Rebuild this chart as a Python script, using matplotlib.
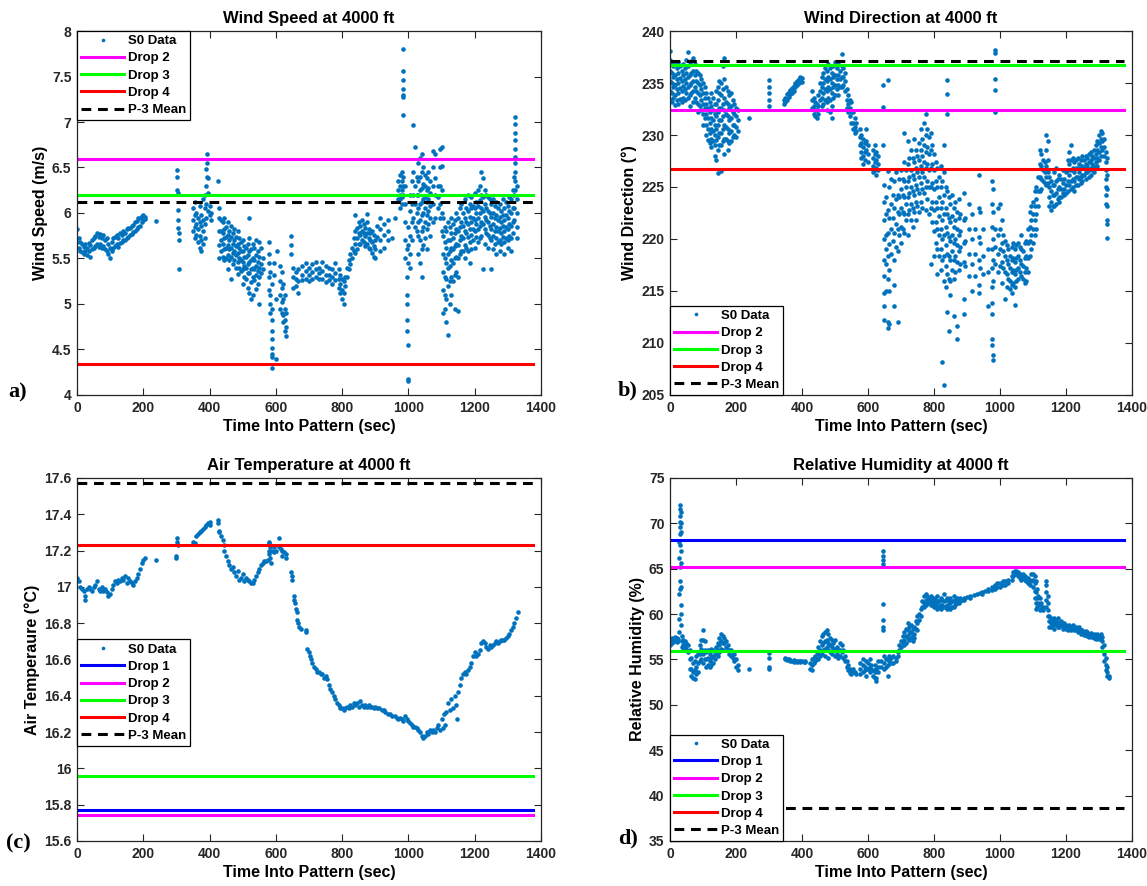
import matplotlib
matplotlib.use("Agg")
import matplotlib.pyplot as plt
from matplotlib.ticker import FuncFormatter, MultipleLocator

# ------------------------------------------------------------
# S0 readings during the 4000 ft pattern.
# Each *_time entry carries the group of readings logged around that time.
# ------------------------------------------------------------

speed_time = [
    0, 5, 10, 15, 20, 25, 30, 35, 40, 45, 50, 55, 60, 65, 70, 75, 80, 85, 90, 95,
    100, 105, 110, 115, 120, 125, 130, 135, 140, 145, 150, 155, 160, 165, 170, 175,
    180, 185, 190, 195, 200, 205, 237,
    303, 305, 307,
    350, 355, 360, 365, 370, 375, 380, 385, 390, 393, 395, 400, 405, 425,
    430, 435, 440, 445, 450, 455, 460, 465, 470, 475, 480, 485, 490, 495, 500,
    505, 510, 515, 520, 525, 530, 535, 540, 545, 550, 555, 560,
    578, 583, 588, 590, 595, 600, 605, 612, 618, 622, 628, 632, 645, 652, 660, 668,
    680, 690, 700, 710, 720, 730, 740, 750, 760, 770, 780, 790, 795, 800, 805,
    810, 815, 820, 825, 830, 835, 840, 845, 850, 855, 860, 865, 870, 875, 880,
    885, 890, 895, 900, 905, 915, 925, 940, 950, 960,
    970, 975, 980, 985, 990, 995, 998, 1000, 1005, 1010, 1015, 1020, 1025,
    1030, 1035, 1040, 1045, 1050, 1055, 1060, 1065, 1075, 1080, 1090, 1095, 1100,
    1105, 1110, 1115, 1120, 1125, 1130, 1135, 1140, 1145, 1150, 1155, 1160,
    1165, 1170, 1175, 1180, 1185, 1190, 1195, 1200, 1205, 1210, 1215, 1220,
    1225, 1230, 1235, 1240, 1245, 1250, 1255, 1260, 1265, 1270, 1275, 1280,
    1285, 1290, 1295, 1300, 1305, 1310, 1315, 1320, 1323, 1327,
]
speed_ms = [
    [5.82, 5.68], [5.72, 5.62], [5.68, 5.58], [5.66, 5.57], [5.63, 5.55],
    [5.66, 5.58], [5.62, 5.54], [5.67, 5.58], [5.65, 5.52], [5.70, 5.60],
    [5.72, 5.62], [5.75, 5.64], [5.78, 5.66], [5.74, 5.63], [5.77, 5.66],
    [5.72, 5.62], [5.76, 5.64], [5.70, 5.60], [5.72, 5.58], [5.66, 5.55],
    [5.62, 5.50], [5.68, 5.58], [5.72, 5.62], [5.74, 5.64], [5.76, 5.66],
    [5.72, 5.63], [5.78, 5.67], [5.76, 5.68], [5.80, 5.70], [5.78, 5.70],
    [5.82, 5.72], [5.84, 5.74], [5.83, 5.76], [5.86, 5.77], [5.87, 5.79],
    [5.90, 5.80], [5.91, 5.82], [5.94, 5.85], [5.95, 5.86], [5.97, 5.90],
    [5.98, 5.92], [5.96, 5.93], [5.91],
    [6.47, 6.40, 6.25], [6.22, 6.03, 5.92, 5.84], [5.78, 5.70, 5.38],
    [6.05, 5.92, 5.80], [6.12, 5.98, 5.85, 5.72], [6.00, 5.88, 5.76],
    [5.95, 5.82, 5.68], [6.08, 5.90, 5.75, 5.62], [5.98, 5.86, 5.70, 5.58],
    [6.15, 5.92, 5.80, 5.66], [6.20, 6.05, 5.88, 5.72], [6.48, 6.30, 6.10, 5.95],
    [6.65, 6.55, 6.40], [6.38, 6.22, 6.02], [6.08, 5.98], [6.00, 5.92], [6.35],
    [6.05, 5.95, 5.80, 5.65, 5.50], [5.92, 5.80, 5.70, 5.58],
    [5.90, 5.78, 5.66, 5.52], [5.95, 5.82, 5.72, 5.60, 5.48],
    [5.85, 5.74, 5.62, 5.50], [5.90, 5.76, 5.65, 5.54, 5.38],
    [5.80, 5.70, 5.60, 5.48], [5.86, 5.74, 5.62, 5.52, 5.27],
    [5.78, 5.66, 5.56, 5.44], [5.82, 5.70, 5.58, 5.48], [5.74, 5.64, 5.54, 5.40],
    [5.80, 5.66, 5.56, 5.46, 5.33], [5.72, 5.62, 5.50, 5.40],
    [5.68, 5.58, 5.48, 5.36], [5.70, 5.58, 5.46, 5.38, 5.22],
    [5.64, 5.52, 5.42, 5.30], [5.62, 5.52, 5.40, 5.28],
    [5.66, 5.54, 5.44, 5.34, 5.18], [5.95, 5.72, 5.58, 5.46, 5.34, 5.12],
    [5.60, 5.48, 5.38, 5.24, 5.05], [5.66, 5.50, 5.40, 5.30, 5.10],
    [5.62, 5.48, 5.38, 5.26], [5.70, 5.54, 5.42, 5.32, 5.16],
    [5.58, 5.46, 5.36, 5.22], [5.68, 5.52, 5.40, 5.30, 5.00],
    [5.62, 5.44, 5.34], [5.50, 5.38],
    [5.68, 5.55, 5.45, 5.30, 5.15], [5.35, 5.10, 5.00, 4.90],
    [5.22, 4.95, 4.82, 4.70, 4.62, 4.52, 4.45, 4.42], [4.30], [5.45, 5.32],
    [5.05, 4.40], [5.58], [5.42, 5.25, 5.10, 4.95], [5.35, 5.18, 5.02, 4.90],
    [5.22, 5.05, 4.88, 4.80], [5.10, 4.95, 4.82, 4.70], [4.90, 4.75, 4.65],
    [5.75, 5.65, 5.55], [5.40, 5.30, 5.18], [5.35, 5.28, 5.20], [5.38, 5.25, 5.12],
    [5.42, 5.32, 5.26], [5.45, 5.36, 5.28], [5.40, 5.32, 5.25], [5.44, 5.35, 5.28],
    [5.46, 5.38, 5.30], [5.40, 5.34, 5.27], [5.46, 5.36, 5.28], [5.42, 5.32, 5.24],
    [5.40, 5.32, 5.26], [5.38, 5.30, 5.22], [5.45, 5.34, 5.26], [5.38, 5.28, 5.18],
    [5.32, 5.22, 5.12], [5.28, 5.15, 5.05], [5.25, 5.12, 5.00],
    [5.30, 5.20], [5.40, 5.30], [5.48, 5.38], [5.55, 5.44], [5.62, 5.50],
    [5.72, 5.58], [5.98, 5.80, 5.66, 5.56], [5.84, 5.72, 5.60], [5.90, 5.78, 5.66],
    [5.86, 5.76, 5.66], [5.92, 5.80, 5.70], [5.88, 5.78, 5.68], [5.84, 5.75, 5.64],
    [5.99, 5.90, 5.78, 5.66], [5.82, 5.72, 5.62], [5.78, 5.70, 5.60],
    [5.80, 5.68, 5.56], [5.76, 5.64, 5.52], [5.70, 5.60, 5.50], [5.86, 5.74],
    [5.95, 5.82, 5.70, 5.58], [5.88, 5.76, 5.62], [5.92, 5.80, 5.70], [5.72], [5.95],
    [6.15, 6.25, 6.35], [6.42, 6.30, 6.20, 6.15, 6.05], [6.45, 6.35, 6.25, 6.18, 6.10],
    [7.80, 7.56, 7.46, 7.36, 7.30, 7.28, 7.08, 6.40, 6.30, 6.20],
    [6.30, 6.10, 5.90, 5.70, 5.50], [5.60, 5.30, 5.10, 5.00, 4.82, 4.70],
    [4.55, 4.18, 4.15], [5.45, 5.65, 5.85], [6.20, 6.02, 5.75, 5.55, 5.40],
    [6.35, 6.10, 5.90, 5.70], [6.97, 6.45, 6.20, 5.95], [6.73, 6.30, 6.10, 5.85],
    [6.40, 6.20, 6.00, 5.80],
    [6.55, 6.35, 6.20, 6.05, 5.90, 5.75, 5.55],
    [6.60, 6.40, 6.25, 6.10, 5.92, 5.70, 5.45],
    [6.65, 6.45, 6.28, 6.12, 5.98, 5.80, 5.60, 5.30],
    [6.50, 6.32, 6.15, 6.00, 5.85, 5.65], [6.42, 6.30, 6.18, 6.05, 5.90, 5.72],
    [6.38, 6.25, 6.12, 5.98, 5.82, 5.60], [6.45, 6.28, 6.15, 6.02, 5.88],
    [6.35, 6.22, 6.08, 5.95, 5.75], [6.68, 6.50, 6.30, 6.10, 5.90],
    [6.65, 6.38, 6.20, 5.95], [6.30, 6.18, 6.05], [6.70, 6.50, 6.30, 6.10, 5.95],
    [6.72, 6.52, 6.25, 6.00, 5.80],
    [5.95, 5.75, 5.55, 5.35, 5.15, 4.90], [5.85, 5.68, 5.50, 5.30, 5.10, 4.95],
    [5.80, 5.62, 5.45, 5.28, 5.05, 4.80], [5.90, 5.70, 5.55, 5.40, 5.20, 4.66],
    [5.85, 5.70, 5.58, 5.42, 5.25, 5.00], [5.95, 5.78, 5.62, 5.48, 5.30, 5.10],
    [5.88, 5.72, 5.60, 5.45, 5.25], [5.92, 5.78, 5.64, 5.50, 5.32, 4.95],
    [6.00, 5.82, 5.66, 5.52, 5.35], [5.95, 5.80, 5.65, 5.50, 5.30, 4.92],
    [6.05, 5.85, 5.70, 5.55], [6.10, 5.90, 5.75, 5.58],
    [6.00, 5.86, 5.72, 5.58], [6.15, 5.95, 5.80, 5.65, 5.50],
    [6.05, 5.90, 5.78, 5.62], [6.20, 6.02, 5.88, 5.74, 5.58],
    [6.10, 5.96, 5.82, 5.68, 5.45], [6.18, 6.05, 5.90, 5.76, 5.60],
    [6.08, 5.95, 5.82, 5.70], [6.22, 6.05, 5.92, 5.80, 5.62],
    [6.12, 6.00, 5.88, 5.74], [6.25, 6.08, 5.95, 5.82, 5.68],
    [6.30, 6.14, 6.00, 5.86, 5.72], [6.45, 6.20, 6.05, 5.90, 5.75],
    [6.38, 6.18, 6.02, 5.88, 5.38], [6.25, 6.10, 5.96, 5.82, 5.66],
    [6.20, 6.05, 5.92, 5.78], [6.18, 6.02, 5.90, 5.76, 5.62],
    [6.15, 6.00, 5.86, 5.72], [6.10, 5.96, 5.82, 5.70, 5.38],
    [6.15, 6.00, 5.88, 5.75, 5.60], [6.08, 5.94, 5.80, 5.66],
    [6.12, 5.98, 5.85, 5.72, 5.55], [6.05, 5.92, 5.80, 5.68],
    [6.10, 5.96, 5.84, 5.70, 5.58], [6.02, 5.90, 5.78, 5.66],
    [6.15, 5.98, 5.86, 5.74], [6.05, 5.92, 5.80, 5.68, 5.55],
    [6.12, 5.98, 5.85, 5.72], [6.08, 5.95, 5.82, 5.70, 5.62],
    [6.18, 6.02, 5.88, 5.75], [6.15, 6.00, 5.86, 5.72, 5.58],
    [6.25, 6.05, 5.90, 5.78], [6.40, 6.20, 6.05, 5.92],
    [7.05, 6.98, 6.88, 6.80, 6.70, 6.62, 6.55, 6.45, 6.35, 6.25],
    [6.30, 6.15, 6.00, 5.85, 5.72],
]

direction_time = [
    0, 5, 10, 15, 20, 25, 30, 35, 40, 45, 50, 55, 60, 65, 70, 75, 80, 85, 90, 95,
    100, 105, 110, 115, 120, 125, 130, 135, 140, 145, 150, 155, 160, 165, 170,
    175, 180, 185, 190, 195, 200, 205, 240, 300,
    345, 350, 355, 360, 365, 370, 375, 380, 385, 390, 395, 400,
    430, 435, 440, 445, 450, 455, 460, 465, 470, 475, 480, 485, 490, 495, 500,
    505, 510, 515, 520, 525, 530, 535, 540, 545, 550, 555, 560, 565, 575, 580,
    585, 590, 595, 600, 615, 620, 625, 630, 645,
    650, 655, 660, 665, 670, 675, 680, 685, 690, 695, 700, 705, 710, 715, 720,
    725, 730, 735, 740, 745, 750, 755, 760, 765, 770, 775, 780, 785, 790, 795,
    800, 805, 810, 815, 820, 825, 830, 835, 840, 845, 850, 855, 860, 865, 870,
    875, 880, 890, 895, 905, 915, 925, 935, 940, 950, 965, 975, 980, 985,
    995, 1000, 1005, 1010, 1015, 1020, 1025, 1030, 1035, 1040, 1045, 1050, 1055,
    1060, 1065, 1070, 1075, 1080, 1085, 1090, 1095, 1100, 1105, 1110, 1115,
    1120, 1125, 1130, 1135, 1140, 1145, 1150, 1155, 1160, 1165, 1170, 1175,
    1180, 1185, 1190, 1195, 1200, 1205, 1210, 1215, 1220, 1225, 1230, 1235,
    1240, 1245, 1250, 1255, 1260, 1265, 1270, 1275, 1280, 1285, 1290, 1295,
    1300, 1305, 1310, 1315, 1320, 1325,
]
direction_deg = [
    [238.1, 237.2, 236.2, 235.2, 234.2, 233.4], [237.0, 236.0, 235.0, 234.0, 233.2],
    [236.6, 235.6, 234.6, 233.6], [236.8, 235.8, 234.8, 233.8, 232.9],
    [236.4, 235.4, 234.4, 233.4], [237.0, 236.0, 235.0, 234.0, 233.0],
    [236.6, 235.5, 234.5, 233.5], [236.2, 235.2, 234.2, 233.2],
    [236.8, 235.8, 234.7, 233.6], [236.4, 235.4, 234.4, 233.4],
    [237.2, 236.0, 235.0, 234.0], [238.0, 236.6, 235.6, 234.6, 233.6],
    [236.8, 235.8, 234.8, 233.8, 232.8], [237.1, 236.0, 235.0, 234.0],
    [237.4, 236.2, 235.2, 234.2, 233.2], [236.8, 235.8, 234.6, 233.6],
    [236.2, 235.2, 234.2, 233.2], [236.0, 235.0, 234.0, 233.0, 232.2],
    [235.8, 234.8, 233.8, 232.8], [235.4, 234.4, 233.4, 232.4],
    [235.0, 234.0, 233.0, 232.0, 231.0], [234.6, 233.6, 232.6, 231.6],
    [234.0, 233.0, 232.0, 231.0, 230.0], [233.6, 232.6, 231.6, 230.6, 229.5],
    [233.2, 232.2, 231.2, 230.2, 229.2], [234.0, 232.8, 231.6, 230.6, 229.6, 228.8],
    [233.6, 232.4, 231.4, 230.4, 229.4], [233.0, 232.0, 231.0, 230.0, 229.0, 228.0],
    [234.2, 233.0, 231.8, 230.6, 229.5, 227.6],
    [234.6, 233.4, 232.2, 231.0, 229.8, 228.6, 226.3],
    [235.2, 234.0, 232.6, 231.4, 230.2, 229.0],
    [235.0, 233.8, 232.6, 231.4, 230.2, 229.0, 226.5],
    [236.6, 234.4, 233.0, 231.8, 230.6, 229.4],
    [237.4, 235.4, 233.6, 232.4, 231.0, 229.6, 228.2],
    [234.6, 233.2, 232.0, 230.8, 229.6], [234.2, 233.0, 231.8, 230.6, 229.4, 228.6],
    [233.8, 232.6, 231.4, 230.2, 229.2], [234.0, 232.8, 231.6, 230.4, 229.4],
    [233.4, 232.2, 231.0, 229.8], [233.0, 232.0, 231.0, 230.0],
    [232.6, 231.8, 230.8, 229.8], [232.4, 231.4, 230.4], [231.6],
    [235.3, 234.6, 234.0, 233.4, 232.8],
    [233.0, 233.4], [233.2, 233.6], [233.4, 233.9], [233.7, 234.1], [233.9, 234.3],
    [234.0, 234.5], [234.2, 234.7], [234.6, 235.0], [234.8, 235.2], [235.0, 235.4],
    [235.2, 235.6], [235.1, 235.5],
    [234.2, 233.4, 232.6], [233.6, 232.8, 232.0], [233.2, 232.4, 231.8],
    [233.0, 232.4, 231.6], [233.8, 232.8, 232.0], [235.0, 234.2, 233.4],
    [235.6, 234.6, 233.6, 232.8], [236.0, 235.0, 234.0, 233.0],
    [236.4, 235.4, 234.4, 233.4], [236.2, 235.2, 234.2, 233.2, 232.4],
    [236.8, 235.6, 234.6, 233.6], [236.4, 235.4, 234.4, 233.4, 232.2],
    [236.0, 235.0, 234.0, 232.8, 231.6], [236.6, 235.6, 234.6, 233.6],
    [237.0, 235.8, 234.8, 233.8], [236.4, 235.4, 234.4], [236.8, 235.8, 234.8, 233.8],
    [236.2, 235.4, 234.6], [237.8, 236.6, 235.6, 234.6], [236.4, 235.6, 234.8],
    [236.0, 235.2, 234.2], [234.4, 233.4, 232.6], [233.8, 233.0, 232.2],
    [233.4, 232.6, 231.8], [233.2, 232.2, 231.2], [232.2, 231.2, 230.6],
    [231.6, 230.8, 230.2], [231.2, 230.4], [230.6, 229.8, 229.0],
    [230.0, 229.2, 228.4, 227.8], [229.6, 228.8, 228.0, 227.2], [229.2, 228.4, 227.6],
    [230.6, 229.4, 228.6], [229.0, 228.2, 227.4], [228.6, 227.8, 227.0, 226.4],
    [229.0, 228.2, 227.4, 226.6], [228.4, 227.6, 226.8, 226.2], [228.0, 227.2, 226.6],
    [234.8, 232.7, 229.0],
    [225.2, 223.6, 221.8, 220.0, 218.0, 216.4, 214.8, 213.6, 212.2],
    [224.0, 222.4, 220.4, 219.0, 217.6, 215.0],
    [235.3, 226.5, 222.8, 220.6, 218.4, 216.2, 212.0, 211.4],
    [225.0, 222.0, 219.5, 217.0, 215.0, 211.8], [225.8, 223.4, 221.0, 218.6],
    [224.2, 222.0, 219.8], [225.6, 223.0, 220.6, 218.0, 215.6, 213.6],
    [226.4, 223.8, 221.4, 219.2], [224.2, 222.6, 221.0, 218.8, 212.0],
    [225.8, 224.0, 222.4, 220.4], [226.6, 224.8, 223.0, 221.2, 219.6],
    [225.8, 224.2, 222.6, 221.0], [230.2, 227.4, 225.6, 224.0, 222.4, 220.6],
    [226.6, 225.0, 223.4, 221.8], [229.4, 227.2, 225.6, 224.0, 222.4, 220.4],
    [227.8, 226.0, 224.4, 222.8], [228.6, 226.6, 225.0, 223.4, 221.8],
    [227.8, 226.2, 224.6, 223.0, 221.2], [229.6, 227.4, 225.8, 224.2, 222.6],
    [228.6, 226.8, 225.2, 223.6, 221.8], [228.0, 226.4, 224.8, 223.2],
    [229.2, 227.6, 226.0, 224.4, 222.6], [230.6, 228.6, 227.0, 225.4, 223.6],
    [229.6, 228.0, 226.4, 224.8, 223.0], [231.2, 229.0, 227.4, 226.0, 224.4],
    [232.0, 230.0, 228.4, 226.8, 225.0, 222.8], [230.6, 228.8, 227.2, 225.6, 223.8],
    [229.8, 228.2, 226.6, 225.0, 222.4], [230.2, 228.6, 226.8, 225.0, 223.0, 217.6],
    [229.0, 227.2, 225.4, 223.6, 221.6], [228.2, 226.6, 224.8, 222.8, 220.8, 218.4],
    [227.4, 225.6, 223.6, 221.6, 219.6], [226.8, 225.0, 223.0, 221.0, 219.0, 216.6],
    [226.0, 224.0, 222.2, 220.4, 218.4], [227.0, 225.0, 223.0, 221.0, 219.0, 217.0],
    [225.6, 223.6, 221.8, 220.0, 218.0, 208.2],
    [229.0, 226.4, 224.2, 222.4, 220.4, 218.4, 216.0, 206.0],
    [225.0, 223.0, 221.2, 219.4, 217.4, 215.4],
    [235.3, 233.9, 232.0, 224.6, 222.4, 220.6, 218.6, 216.6, 213.0],
    [224.0, 222.0, 220.2, 218.4, 216.2, 211.2], [223.4, 221.6, 219.8, 218.0, 216.0, 214.6],
    [224.2, 222.2, 220.4, 218.8, 217.0], [223.0, 221.2, 219.6, 218.0, 216.2, 212.6],
    [223.6, 221.8, 220.0, 218.4, 216.8], [222.6, 221.0, 219.4, 217.8, 211.6, 210.4],
    [223.8, 222.0, 220.4, 218.8, 217.0], [222.4, 220.8, 219.2, 217.6],
    [224.4, 221.8, 219.6, 217.8, 214.2, 212.8], [222.0, 219.8, 217.4],
    [223.4, 221.0, 218.6, 216.4], [222.4, 220.0, 217.6, 215.0], [221.0, 218.6, 216.4],
    [226.2, 223.0, 220.2, 218.0, 215.6, 214.8], [222.6, 219.6, 217.2],
    [221.0, 218.4, 216.6], [219.0, 216.8, 213.6],
    [225.6, 223.4, 221.2, 219.0, 217.2, 215.4, 213.8, 212.8, 210.4, 209.8],
    [224.8, 222.6, 220.0, 218.0, 216.0, 208.8, 208.4],
    [238.2, 237.9, 235.4, 234.3, 232.2, 221.0, 219.2, 217.6],
    [223.0, 220.4, 218.6, 216.8], [223.4, 221.0, 219.0, 217.4],
    [221.8, 219.6, 217.8, 215.8], [220.4, 218.8, 217.2], [219.8, 218.4, 216.8, 214.2],
    [219.4, 218.0, 216.6, 215.4], [219.0, 217.6, 216.2], [218.4, 217.2, 216.0, 215.2],
    [219.2, 218.0, 216.8, 215.6, 214.8], [219.6, 218.2, 217.0, 215.8],
    [219.0, 217.8, 216.6, 215.4, 213.7], [219.4, 218.2, 217.0, 216.0],
    [219.6, 218.4, 217.2, 216.2], [219.2, 218.0, 216.8], [220.4, 219.0, 217.6, 216.4],
    [218.8, 217.4, 216.2], [219.6, 218.2, 216.8, 215.8], [219.8, 218.4, 217.2, 216.0],
    [221.0, 219.6, 218.2, 216.8], [222.6, 221.2, 219.8, 218.4],
    [223.2, 221.8, 220.4, 219.0], [223.6, 222.4, 221.0, 219.6],
    [224.6, 223.2, 221.8, 220.4], [225.0, 223.8, 222.4, 221.0], [226.0, 224.6, 223.2],
    [228.6, 227.2, 226.0, 224.6], [228.2, 227.0, 225.8, 224.8], [227.6, 226.6, 225.6],
    [227.4, 226.4, 225.4], [230.0, 228.6, 227.0, 226.0, 225.2],
    [229.4, 227.6, 226.4, 225.4], [226.0, 225.0, 224.0, 223.2],
    [225.6, 224.6, 223.6, 222.8], [225.2, 224.2, 223.2], [226.4, 225.2, 224.2, 223.2],
    [226.8, 225.6, 224.4, 223.4], [225.8, 224.8, 223.8], [226.2, 225.0, 224.0, 223.6],
    [225.8, 224.8, 224.0], [226.6, 225.4, 224.4], [225.8, 224.8, 224.2],
    [226.4, 225.2, 224.4], [227.6, 226.6, 225.6, 224.6], [228.4, 227.2, 226.2, 225.2],
    [229.0, 227.6, 226.6, 225.6, 224.8], [227.8, 226.8, 225.8, 225.0],
    [227.4, 226.4, 225.6, 224.6], [227.6, 226.8, 226.0, 225.2],
    [227.8, 226.8, 226.0, 225.2], [227.2, 226.4, 225.8], [227.6, 226.8, 226.0, 225.4],
    [228.0, 227.0, 226.2, 225.6], [227.6, 226.8, 226.2], [228.0, 227.2, 226.4, 225.8],
    [227.8, 227.0, 226.4], [228.2, 227.4, 226.6, 226.0], [228.4, 227.6, 226.8, 226.2],
    [228.0, 227.2, 226.6], [228.6, 227.8, 227.0, 226.4], [229.0, 228.2, 227.4, 226.8],
    [229.4, 228.6, 227.8, 227.0], [230.0, 229.2, 228.4, 227.6],
    [230.4, 229.6, 228.8, 228.0], [230.2, 229.4, 228.6], [229.6, 228.8, 228.0],
    [228.4, 227.4, 226.6, 225.8, 225.0, 224.2, 223.4],
    [227.8, 226.2, 224.8, 223.2, 221.8, 221.4, 220.1],
]

temp_time = [
    0, 5, 10, 15, 20, 25, 30, 35, 40, 45, 50, 55, 60, 65, 70, 75, 80, 85, 90, 95,
    100, 105, 110, 115, 120, 125, 130, 135, 140, 145, 150, 155, 160, 165, 170,
    175, 180, 185, 190, 195, 200, 205, 237, 300, 302, 305,
    350, 355, 360, 365, 370, 375, 380, 385, 390, 395, 400,
    425, 428, 430, 435, 440, 443, 445, 450, 455, 460, 465, 470, 475, 480, 485,
    490, 495, 500, 505, 510, 515, 520, 525, 530, 535, 540, 545, 550, 555, 560,
    565, 570, 575, 578, 580, 583, 585, 590, 595, 600, 610, 615, 620, 625, 630,
    645, 648, 650, 655, 657, 660, 663, 665, 668, 670, 675, 690, 695, 700, 703,
    705, 710, 715, 720, 725, 730, 735, 740, 745, 750, 755, 760, 765, 770, 775,
    780, 785, 790, 795, 800, 805, 810, 815, 820, 825, 830, 835, 840, 845, 850,
    855, 860, 865, 870, 875, 880, 885, 890, 895, 900, 905, 910, 920, 925, 930,
    940, 945, 950, 960, 965, 970, 975, 980, 985, 990, 995, 1000, 1005, 1010,
    1015, 1020, 1025, 1030, 1035, 1040, 1045, 1050, 1055, 1060, 1065, 1070,
    1075, 1080, 1085, 1090, 1095, 1100, 1105, 1108, 1110, 1115, 1120, 1125,
    1130, 1135, 1140, 1145, 1148, 1150, 1155, 1160, 1165, 1170, 1175, 1180,
    1185, 1190, 1195, 1200, 1205, 1210, 1215, 1220, 1225, 1230, 1235, 1240,
    1245, 1250, 1255, 1260, 1265, 1270, 1275, 1280, 1285, 1290, 1295, 1300,
    1305, 1310, 1315, 1320, 1325, 1330,
]
temp_c = [
    [17.05], [17.03], [17.00], [16.99], [16.98], [16.95, 16.93], [16.99], [17.00],
    [16.99], [16.98], [17.00], [17.01], [17.03], [16.99], [16.98], [17.00], [16.98],
    [16.99], [16.97], [16.95], [16.96], [16.99], [17.01], [17.03], [17.02], [17.04],
    [17.03], [17.05], [17.04], [17.06], [17.02], [17.05], [17.03], [17.02], [17.01],
    [17.03], [17.05], [17.07], [17.10], [17.13], [17.15], [17.16], [17.15],
    [17.17, 17.16], [17.27, 17.25], [17.23],
    [17.25], [17.24], [17.28], [17.29], [17.30], [17.31], [17.32], [17.33], [17.34],
    [17.35], [17.36, 17.34],
    [17.37, 17.35], [17.31], [17.30], [17.28], [17.26], [17.23], [17.20], [17.17],
    [17.14], [17.12], [17.10], [17.11], [17.08], [17.06], [17.09], [17.04], [17.05],
    [17.07], [17.03], [17.05], [17.04], [17.03], [17.02], [17.02], [17.04], [17.06],
    [17.08], [17.10], [17.12], [17.13], [17.14], [17.14], [17.15], [17.20, 17.24],
    [17.25, 17.18], [17.22, 17.16], [17.13], [17.20], [17.22, 17.19], [17.20],
    [17.27, 17.22], [17.21], [17.20, 17.17], [17.19], [17.18, 17.16],
    [17.08], [17.04], [17.06], [16.95, 16.93], [16.91], [16.88], [16.86], [16.82],
    [16.80], [16.78], [16.77], [16.76, 16.75], [16.66], [16.64], [16.62], [16.60],
    [16.58], [16.56], [16.55], [16.53], [16.53], [16.52], [16.52], [16.50], [16.51],
    [16.49], [16.46], [16.44], [16.42], [16.40], [16.38], [16.36], [16.35], [16.33],
    [16.33], [16.32], [16.33], [16.34], [16.33], [16.35], [16.34], [16.36], [16.35],
    [16.36], [16.34], [16.37], [16.35], [16.34], [16.35], [16.34], [16.35], [16.34],
    [16.34], [16.33], [16.34], [16.33], [16.33], [16.32], [16.32], [16.31], [16.30],
    [16.30], [16.29], [16.29], [16.28], [16.27], [16.28], [16.27], [16.26], [16.29],
    [16.27], [16.26], [16.25], [16.24], [16.23], [16.23], [16.22], [16.21], [16.20],
    [16.18], [16.17], [16.18], [16.20], [16.19], [16.21], [16.20], [16.21], [16.20],
    [16.22], [16.24], [16.21], [16.27], [16.22], [16.30], [16.24], [16.31], [16.36],
    [16.32], [16.38], [16.33], [16.40], [16.35], [16.27], [16.42], [16.46], [16.50],
    [16.52], [16.53], [16.52], [16.54], [16.56], [16.58], [16.62], [16.64], [16.62],
    [16.63], [16.65], [16.69], [16.70], [16.69], [16.67], [16.66], [16.68], [16.67],
    [16.68], [16.69], [16.70], [16.69], [16.70], [16.71], [16.71], [16.71], [16.72],
    [16.73], [16.74], [16.76], [16.78], [16.80], [16.83], [16.86],
]

humidity_time = [
    0, 5, 10, 15, 20, 25, 28, 30, 32, 35, 40, 45, 50, 55, 60, 65, 70, 75, 80, 85,
    90, 95, 100, 105, 110, 115, 120, 125, 130, 135, 140, 145, 150, 155, 160, 165,
    170, 175, 180, 185, 190, 195, 200, 205, 240, 300,
    350, 355, 360, 365, 370, 375, 380, 385, 390, 395, 400, 405, 410, 425, 430,
    435, 440, 445, 450, 455, 460, 465, 470, 475, 480, 485, 490, 495, 500, 505,
    510, 515, 520, 525, 530, 535, 540, 545, 550, 555, 560, 565, 575, 585, 590,
    595, 600, 605, 610, 615, 620, 625, 630, 640, 645, 650, 655, 660, 665, 670,
    675, 685, 690, 695, 700, 705, 710, 715, 720, 725, 730, 735, 740, 745, 750,
    755, 760, 765, 770, 775, 780, 785, 790, 795, 800, 805, 810, 815, 820, 825,
    830, 835, 840, 845, 850, 855, 860, 865, 870, 875, 880, 885, 890, 900, 910,
    920, 930, 940, 945, 955, 965, 975, 985, 990, 1000, 1010, 1015, 1025, 1035,
    1040, 1045, 1050, 1055, 1060, 1065, 1070, 1075, 1080, 1085, 1090, 1095,
    1100, 1105, 1108, 1112, 1115, 1120, 1125, 1130, 1140, 1145, 1150, 1155,
    1160, 1165, 1170, 1175, 1180, 1185, 1190, 1195, 1200, 1205, 1210, 1215,
    1220, 1225, 1230, 1235, 1240, 1245, 1250, 1255, 1260, 1265, 1270, 1275,
    1280, 1285, 1290, 1295, 1300, 1305, 1310, 1315, 1320, 1325, 1330,
]
humidity_pct = [
    [57.2, 56.6], [57.4, 56.8], [57.2, 57.0], [57.5, 57.0], [57.4, 56.9], [57.3, 57.0],
    [58.0, 59.5, 62.2, 66.2, 68.0],
    [72.0, 71.6, 70.8, 70.2, 69.6, 68.8, 67.6, 65.2, 63.6, 62.8],
    [71.2, 70.0, 69.0, 67.0, 65.6, 63.0, 61.0, 60.0, 58.8],
    [57.6, 57.0, 56.4], [57.2, 56.6, 56.0], [57.0, 56.4], [56.8, 56.2], [56.6, 55.8],
    [56.0, 55.0, 54.0], [55.2, 54.0, 53.2], [54.6, 53.6, 53.0], [54.8, 53.8, 52.8],
    [55.4, 54.2, 53.4], [55.6, 54.6, 53.6], [56.6, 55.6, 54.8], [57.2, 56.2, 55.0],
    [58.2, 57.2, 55.6, 54.6], [57.0, 56.0, 55.0], [55.8, 55.0, 54.2],
    [56.0, 55.2, 54.4], [55.6, 54.8, 54.2], [56.2, 55.2, 54.4], [56.0, 55.4, 54.6],
    [55.8, 55.0], [56.4, 55.6], [56.8, 56.0, 55.4], [57.4, 56.6, 55.8],
    [57.8, 57.0, 56.2], [57.6, 56.8, 56.0], [57.4, 56.8], [57.0, 56.4], [56.6, 56.0],
    [56.0, 55.6], [56.0, 55.4], [55.8, 55.2], [55.6, 54.8], [55.0, 54.2], [54.4, 53.8],
    [54.0], [55.7, 55.2, 54.2, 53.9],
    [55.2, 55.0], [55.1, 54.9], [55.0], [54.9, 54.8], [54.8], [54.9, 54.7], [54.8],
    [54.8, 54.7], [54.8], [54.7, 54.8], [54.8], [54.7], [54.8, 54.7], [54.6, 54.0],
    [55.0, 54.4, 53.8], [55.2, 54.6], [55.4, 54.8], [55.8, 55.0], [56.4, 55.6, 55.0],
    [57.0, 56.0, 55.4], [57.6, 56.6, 55.6], [57.8, 56.8, 56.0],
    [58.0, 57.0, 56.2, 55.4], [58.3, 57.2, 56.4], [57.8, 56.8, 56.0, 55.2],
    [57.4, 56.6, 55.8], [57.2, 56.4, 55.6], [56.8, 56.0], [57.2, 56.2, 55.4],
    [56.4, 55.6], [56.0, 55.2], [56.8, 56.0, 55.4], [56.6, 55.8], [56.0, 55.2],
    [55.4, 54.8], [54.8, 54.2], [54.4, 53.8], [54.0, 53.5], [53.8, 53.4],
    [54.0, 53.6], [53.6], [53.4], [54.6, 54.0, 53.4], [55.0, 54.4, 53.6],
    [54.2, 53.8], [54.8, 54.0, 53.2], [54.6, 54.0], [55.0, 54.2, 53.6], [54.4, 53.8],
    [53.8, 53.2], [54.4, 53.6, 53.0], [54.0, 53.0, 52.6], [54.8, 54.2, 53.6],
    [54.8, 54.2], [67.0, 66.4, 66.0, 65.5, 61.1, 59.4, 58.6, 58.3],
    [55.4, 54.6, 54.0], [55.0, 54.2], [55.0, 54.4, 53.2], [55.4, 54.8], [55.2, 54.6],
    [55.4, 54.6], [55.2, 54.8], [55.8, 55.4], [56.6, 56.0], [57.0, 56.4],
    [57.6, 56.8], [58.0, 57.2, 56.6], [58.4, 57.6, 56.8], [59.0, 58.2, 57.4],
    [58.6, 57.8, 57.2], [58.8, 58.0, 57.4], [58.4, 57.6, 57.0], [58.6, 57.8, 57.4],
    [59.2, 58.4], [59.8, 59.0, 58.2], [60.0, 59.4], [60.6, 59.8], [61.4, 60.8],
    [62.0, 61.2, 60.8], [62.2, 61.6, 61.0], [62.0, 61.4], [61.8, 61.2],
    [62.0, 61.4, 61.0], [61.6, 61.0], [61.8, 61.2, 60.8], [61.6, 61.0],
    [62.0, 61.2, 60.6], [61.4, 60.8], [61.8, 61.0, 60.6], [61.6, 61.0],
    [62.2, 61.4, 60.8], [61.6, 60.8], [61.8, 61.0, 60.6], [61.4, 60.8],
    [61.8, 61.2, 60.6], [61.4, 60.8], [62.0, 61.4, 60.8], [61.6, 61.0], [61.8, 61.2],
    [61.6, 61.2], [61.8, 61.4], [61.6], [61.8, 61.6], [61.9], [62.0, 61.8], [62.1],
    [62.2], [62.3], [62.2, 62.4], [62.6], [62.8, 62.5], [63.0, 62.7], [63.2, 62.8],
    [63.4, 63.0], [63.4, 63.0], [63.2, 63.6], [63.6, 63.2], [63.8, 63.4],
    [64.2, 63.8], [64.6, 64.2], [64.8, 64.4], [64.8, 64.6], [64.6, 64.2],
    [64.4, 64.0], [64.2, 63.8], [64.4, 64.0], [64.2, 63.8], [64.0, 63.6],
    [64.0, 63.4], [63.8, 63.2], [64.4, 63.6], [64.4, 63.8, 63.0],
    [64.2, 63.4, 62.6, 61.8], [63.6, 62.4, 61.2, 60.6], [62.8, 61.8, 60.8],
    [62.0, 61.2], [61.8, 61.0, 60.4], [61.2, 60.6], [60.8, 60.4],
    [63.6, 63.2, 62.4, 61.6, 60.8], [62.0, 61.2, 60.4, 59.8], [59.8, 59.2, 58.6],
    [59.6, 59.0, 58.6], [59.4, 58.8], [59.6, 59.0, 58.4], [59.2, 58.8],
    [59.6, 59.0, 58.6], [59.0, 58.6], [59.2, 58.8], [58.8, 58.4], [59.0, 58.6],
    [58.8, 58.4], [58.6, 58.2], [58.8, 58.4], [58.6, 58.2], [58.8, 58.4],
    [58.6, 58.2], [58.6, 58.3], [58.4, 58.0], [58.6, 58.2], [58.2, 57.8],
    [58.2, 57.9], [58.0, 57.7], [58.1, 57.8], [58.0, 57.6], [57.8, 57.5],
    [57.9, 57.6], [57.7, 57.5], [57.8, 57.4], [57.7, 57.3], [57.8, 57.5],
    [57.6, 57.3], [57.8, 57.4], [57.5, 57.0, 56.4], [56.6, 55.6, 54.8],
    [55.2, 54.4, 53.8], [54.2, 53.6, 53.2], [53.2, 53.0],
]

# dropsonde / P-3 reference values per panel (NaN = no value at this level)
speed_refs = {"Drop 2": 6.59, "Drop 3": 6.20, "Drop 4": 4.34, "P-3 Mean": 6.12}
direction_refs = {"Drop 2": 232.4, "Drop 3": 236.7, "Drop 4": 226.7, "P-3 Mean": 237.1}
temp_refs = {"Drop 1": 15.77, "Drop 2": 15.745, "Drop 3": 15.96, "Drop 4": 17.23,
             "P-3 Mean": 17.57}
humidity_refs = {"Drop 1": 68.2, "Drop 2": 65.2, "Drop 3": 55.9,
                 "Drop 4": float("nan"), "P-3 Mean": 38.6}

REF_STYLE = {
    "Drop 1": dict(color="#0000FF", ls="-"),
    "Drop 2": dict(color="#FF00FF", ls="-"),
    "Drop 3": dict(color="#00FF00", ls="-"),
    "Drop 4": dict(color="#FF0000", ls="-"),
    "P-3 Mean": dict(color="black", ls=(0, (3.2, 2.2))),
}
LINE_SPAN = [0, 1375]
DOT_COLOR = "#0072BD"

plt.rcParams["font.family"] = ["Liberation Sans", "DejaVu Sans"]
plt.rcParams["font.weight"] = "bold"
plt.rcParams["axes.labelweight"] = "bold"
plt.rcParams["axes.titleweight"] = "bold"


def flatten(times, groups):
    xs, ys = [], []
    for t, vals in zip(times, groups):
        for v in vals:
            xs.append(t)
            ys.append(v)
    return xs, ys


def draw_panel(ax, times, groups, refs, title, ylabel, ylim, ystep, legend_anchor):
    xs, ys = flatten(times, groups)
    ax.plot(xs, ys, ls="none", marker="o", ms=3.3, mew=0, color=DOT_COLOR,
            label="S0 Data")
    for name in ["Drop 1", "Drop 2", "Drop 3", "Drop 4", "P-3 Mean"]:
        if name not in refs:
            continue
        st = REF_STYLE[name]
        ax.plot(LINE_SPAN, [refs[name]] * 2, color=st["color"], ls=st["ls"],
                lw=2.2, label=name)

    ax.set_xlim(0, 1400)
    ax.set_ylim(*ylim)
    ax.xaxis.set_major_locator(MultipleLocator(200))
    ax.yaxis.set_major_locator(MultipleLocator(ystep))
    ax.yaxis.set_major_formatter(FuncFormatter(lambda v, p: f"{v:g}"))
    ax.tick_params(direction="in", top=True, right=True, length=5, width=0.8,
                   labelsize=10, colors="#262626", pad=4)
    for lab in ax.get_xticklabels() + ax.get_yticklabels():
        lab.set_fontweight("bold")
    for sp in ax.spines.values():
        sp.set_color("#262626")
        sp.set_linewidth(0.9)

    ax.set_title(title, fontsize=12, pad=6)
    ax.set_xlabel("Time Into Pattern (sec)", fontsize=11.5, labelpad=3)
    ax.set_ylabel(ylabel, fontsize=11.5, labelpad=3)

    loc, anchor = legend_anchor
    leg = ax.legend(loc=loc, bbox_to_anchor=anchor, borderaxespad=0, numpoints=1,
                    markerscale=0.8, handlelength=3.3, handletextpad=0.25,
                    labelspacing=0.38, borderpad=0.3, fancybox=False,
                    framealpha=1, edgecolor="black",
                    prop={"size": 9.5, "weight": "bold"})
    leg.get_frame().set_linewidth(0.9)


fig = plt.figure(figsize=(11.47, 8.86), dpi=100)

ax_a = fig.add_axes([0.0671, 0.5542, 0.4045, 0.4108])
ax_b = fig.add_axes([0.5841, 0.5542, 0.4028, 0.4108])
ax_c = fig.add_axes([0.0671, 0.0508, 0.4045, 0.4097])
ax_d = fig.add_axes([0.5841, 0.0508, 0.4028, 0.4097])

draw_panel(ax_a, speed_time, speed_ms, speed_refs, "Wind Speed at 4000 ft",
           "Wind Speed (m/s)", (4, 8), 0.5, ("upper left", (0, 1)))
draw_panel(ax_b, direction_time, direction_deg, direction_refs,
           "Wind Direction at 4000 ft", "Wind Direction (°)", (205, 240), 5,
           ("lower left", (0, 0)))
draw_panel(ax_c, temp_time, temp_c, temp_refs, "Air Temperature at 4000 ft",
           "Air Temperaure (°C)", (15.6, 17.6), 0.2, ("lower left", (0, 0.262)))
draw_panel(ax_d, humidity_time, humidity_pct, humidity_refs,
           "Relative Humidity at 4000 ft", "Relative Humidity (%)", (35, 75), 5,
           ("lower left", (0, 0)))

# panel letters
letter_font = {"family": ["Liberation Serif", "DejaVu Serif"], "size": 16,
               "weight": "bold"}
fig.text(8 / 1147, 1 - 392 / 886, "a)", va="center", ha="left", fontdict=letter_font)
fig.text(618 / 1147, 1 - 390 / 886, "b)", va="center", ha="left", fontdict=letter_font)
fig.text(6 / 1147, 1 - 843 / 886, "(c)", va="center", ha="left", fontdict=letter_font)
fig.text(618 / 1147, 1 - 838 / 886, "d)", va="center", ha="left", fontdict=letter_font)

fig.savefig("out.png", dpi=100)
